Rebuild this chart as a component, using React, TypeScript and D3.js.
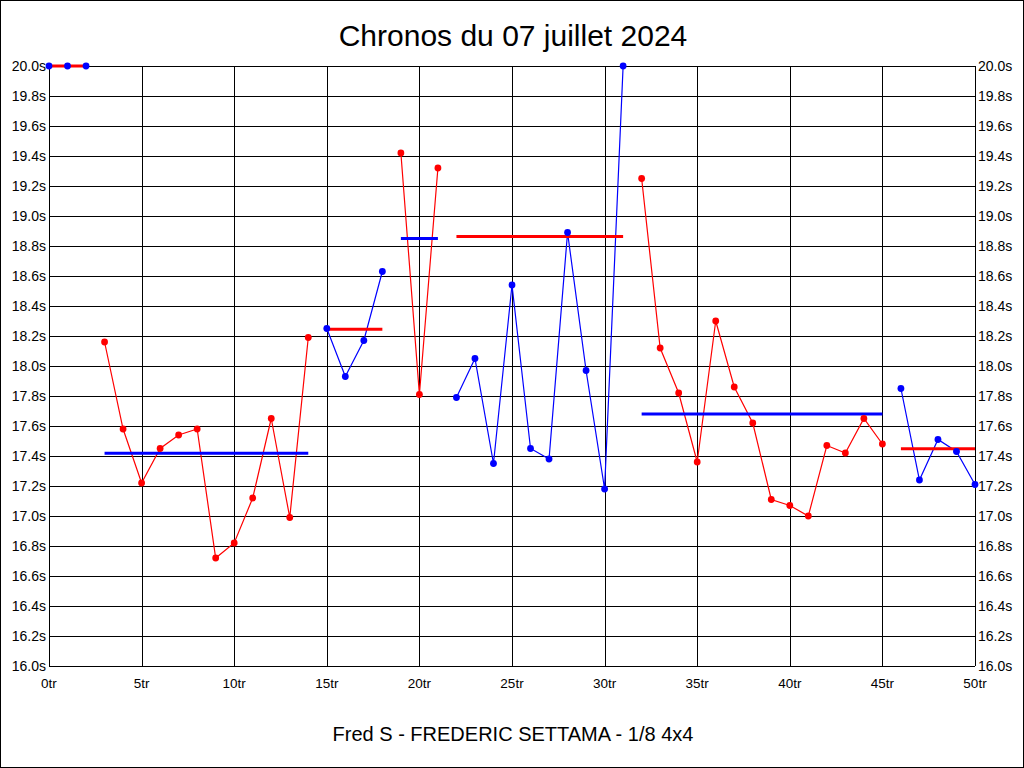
import React from "react";
import * as d3 from "d3";

// Lap times in seconds (lap index 0..50). Values above 20.0 are clipped by the chart.
const laps: number[] = d3.range(0, 51);
const lapTimes: number[] = [
  20.0, 20.0, 20.0,
  18.16, 17.58, 17.22, 17.45, 17.54, 17.58, 16.72, 16.82, 17.12, 17.65, 16.99, 18.19,
  18.25, 17.93, 18.17, 18.63,
  19.42, 17.81, 19.32,
  17.79, 18.05, 17.35, 18.54, 17.45, 17.38, 18.89, 17.97, 17.18, 28.04,
  19.25, 18.12, 17.82, 17.36, 18.30, 17.86, 17.62, 17.11, 17.07, 17.00, 17.47, 17.42, 17.65, 17.48,
  17.85, 17.24, 17.51, 17.43, 17.21,
];
// Runs (first lap, last lap)
const runStarts: number[] = [0, 3, 15, 19, 22, 32, 46];
const runEnds: number[] = [2, 14, 18, 21, 31, 45, 50];
const runColors: string[] = ["#0000ff", "#ff0000"];

const yTicks: number[] = d3.range(0, 21).map((i) => 16 + i * 0.2);
const xTicks: number[] = [0, 5, 10, 15, 20, 25, 30, 35, 40, 45, 50];

const title = "Chronos du 07 juillet 2024";
const subtitle = "Fred S - FREDERIC SETTAMA - 1/8 4x4";

export default function App() {
  const W = 1024;
  const H = 768;
  const left = 49;
  const right = 975;
  const top = 66;
  const bottom = 666;
  const x = d3.scaleLinear().domain([0, 50]).range([left, right]);
  const y = d3.scaleLinear().domain([16, 20]).range([bottom, top]).clamp(true);
  const line = d3
    .line<number>()
    .x((i) => x(laps[i]))
    .y((i) => y(lapTimes[i]));
  const font = "'Liberation Sans', Arial, sans-serif";

  const runs = runStarts.map((s, k) => {
    const e = runEnds[k];
    const idx = d3.range(s, e + 1);
    const avg = d3.mean(idx, (i) => lapTimes[i]) as number;
    return { s, e, idx, avg, color: runColors[k % 2], avgColor: runColors[(k + 1) % 2] };
  });

  return (
    <svg
      width={W}
      height={H}
      style={{ position: "fixed", left: 0, top: 0, background: "#fff" }}
      fontFamily={font}
    >
      <rect x={0.5} y={0.5} width={W - 1} height={H - 1} fill="#fff" stroke="#000" strokeWidth={1} />
      <g shapeRendering="crispEdges">
        {yTicks.map((t) => (
          <line key={"gy" + t} x1={left} x2={right} y1={Math.round(y(t)) + 0.5} y2={Math.round(y(t)) + 0.5} stroke="#000" />
        ))}
        {xTicks.map((t) => (
          <line key={"gx" + t} y1={top} y2={bottom} x1={Math.round(x(t)) + 0.5} x2={Math.round(x(t)) + 0.5} stroke="#000" />
        ))}
      </g>
      {yTicks.map((t) => (
        <g key={"ly" + t} fontSize={14} fill="#000">
          <text x={left - 3} y={y(t)} textAnchor="end" dominantBaseline="central">
            {t.toFixed(1) + "s"}
          </text>
          <text x={right + 3} y={y(t)} textAnchor="start" dominantBaseline="central">
            {t.toFixed(1) + "s"}
          </text>
        </g>
      ))}
      {xTicks.map((t) => (
        <text key={"lx" + t} x={x(t)} y={688} textAnchor="middle" fontSize={13.5} fill="#000">
          {t + "tr"}
        </text>
      ))}
      {runs.map((r, k) => (
        <path key={"l" + k} d={line(r.idx) || ""} fill="none" stroke={r.color} strokeWidth={1.2} />
      ))}
      {runs.map((r, k) => (
        <line key={"a" + k} x1={x(r.s)} x2={x(r.e)} y1={y(r.avg)} y2={y(r.avg)} stroke={r.avgColor} strokeWidth={3} />
      ))}
      {runs.map((r, k) => (
        <g key={"d" + k} fill={r.color}>
          {r.idx.map((i) => (
            <circle key={i} cx={x(laps[i])} cy={y(lapTimes[i])} r={3.4} />
          ))}
        </g>
      ))}
      <text x={513} y={46} textAnchor="middle" fontSize={30} fill="#000">
        {title}
      </text>
      <text x={513} y={741} textAnchor="middle" fontSize={20} fill="#000">
        {subtitle}
      </text>
    </svg>
  );
}
